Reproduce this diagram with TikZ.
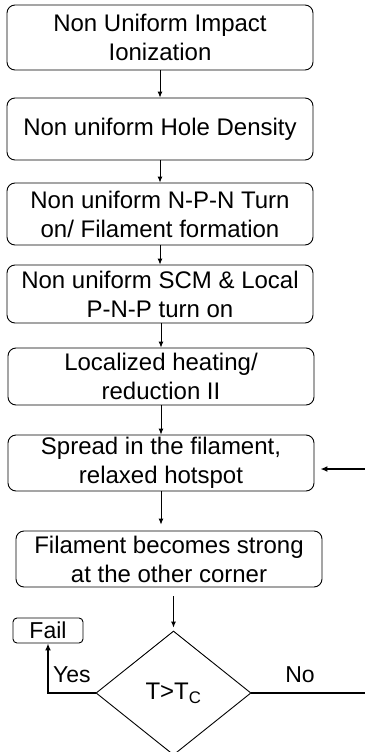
\documentclass[tikz,border=0pt]{standalone}
\usepackage{fontspec}
\setmainfont{Liberation Sans}
\usetikzlibrary{shapes.geometric,arrows.meta}
\tikzset{
  stepbox/.style={draw, rounded corners=8pt, line width=0.9pt, minimum width=306pt,
    align=center, inner sep=2pt, font=\fontsize{24}{29}\selectfont},
  smallbox/.style={draw, rounded corners=4pt, line width=0.9pt, minimum width=70pt,
    minimum height=25pt, inner sep=0pt, font=\fontsize{23}{26}\selectfont},
  decision/.style={draw, diamond, line width=0.9pt, minimum width=155pt, minimum height=124pt,
    inner sep=0pt, font=\fontsize{24}{28}\selectfont},
  flow/.style={line width=0.9pt, -{Latex[length=6pt,width=5pt]}},
  thickflow/.style={line width=2pt, -{Latex[length=7pt,width=6pt]}},
  lbl/.style={font=\fontsize{23}{26}\selectfont, inner sep=0pt}
}
\begin{document}
\begin{tikzpicture}[x=1pt,y=-1pt]
\useasboundingbox[fill=white] (0,0) rectangle (364,752);

\node[stepbox, minimum height=65pt] (b1) at (160,37.5) {Non Uniform Impact\\Ionization};
\node[stepbox, minimum height=62pt] (b2) at (160,129) {Non uniform Hole Density};
\node[stepbox, minimum height=62pt] (b3) at (160,214) {Non uniform N-P-N Turn\\on/ Filament formation};
\node[stepbox, minimum height=58pt] (b4) at (160,294) {Non uniform SCM \& Local\\P-N-P turn on};
\node[stepbox, minimum height=57pt] (b5) at (161,376.5) {Localized heating/\\reduction II};
\node[stepbox, minimum height=56pt] (b6) at (161,463) {Spread in the filament,\\relaxed hotspot};
\node[stepbox, minimum height=56pt] (b7) at (169,559) {Filament becomes strong\\at the other corner};

\node[decision] (dia) at (173.5,693) {T>T\textsubscript{C}};
\node[smallbox] (fail) at (48,630.5) {Fail};

\coordinate (yescorner) at (48,693);
\coordinate (noend) at (366,693);
\coordinate (back) at (366,469);

\draw[flow] (b1.south) -- (b2.north);
\draw[flow] (b2.south) -- (b3.north);
\draw[flow] (b3.south) -- (b4.north);
\draw[flow] (b4.south -| b5.north) -- (b5.north);
\draw[flow] (b5.south) -- (b6.north);
\draw[flow, shorten >=6pt] (b6.south) -- (b6.south |- b7.north);
\draw[flow, shorten <=9pt, shorten >=3pt] (b7.south -| dia.north) -- (dia.north);

\draw[thickflow] (dia.west) -- (yescorner) -- (fail.south);
\draw[line width=2pt] (dia.east) -- (noend);
\draw[thickflow, shorten >=6pt] (back) -- (back -| b6.east);

\node[lbl, anchor=west] (yes) at (53,675) {Yes};
\node[lbl] (no) at (300,675) {No};
\end{tikzpicture}
\end{document}
